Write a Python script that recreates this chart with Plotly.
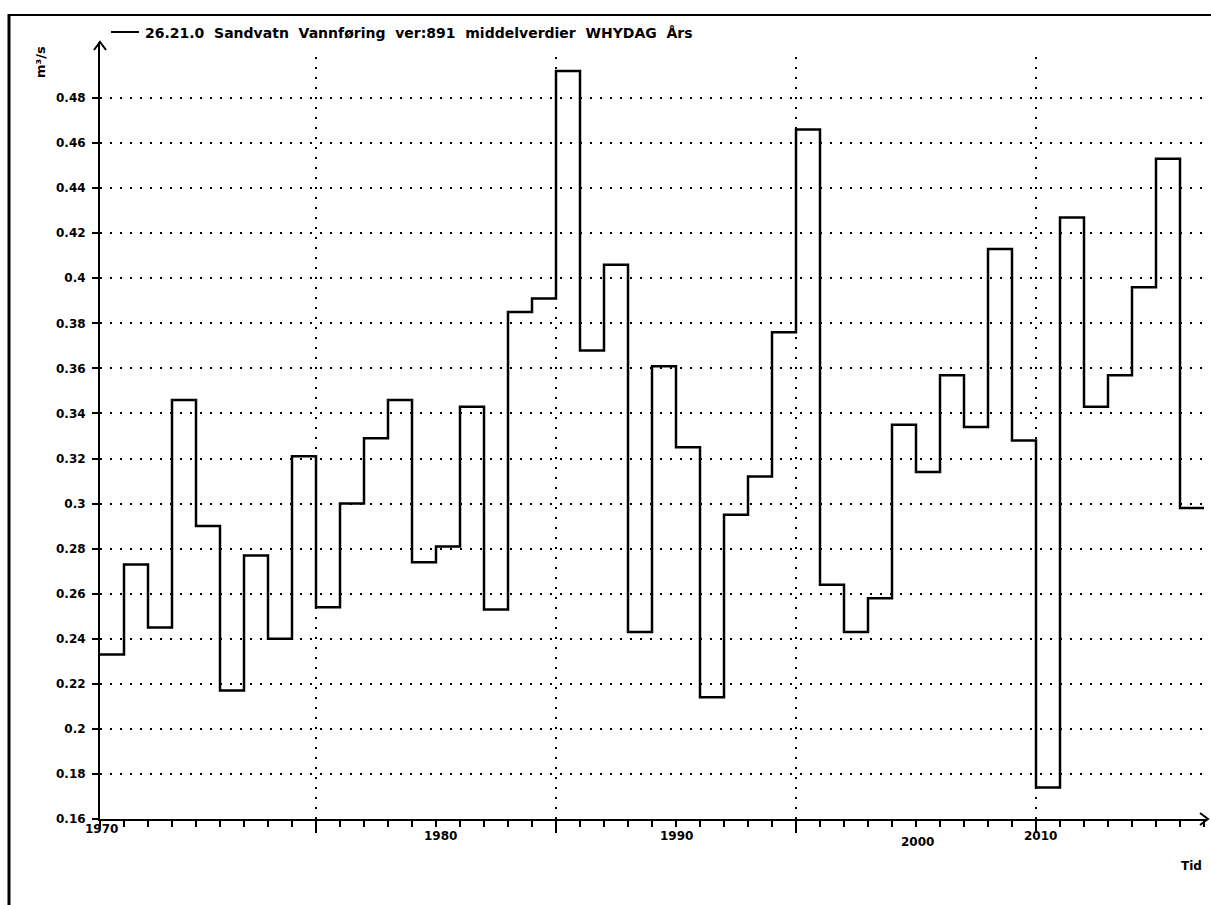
import plotly.graph_objects as go

# ---- data ----
years = list(range(1970, 2016))
flow = [0.233, 0.273, 0.245, 0.346, 0.290, 0.217, 0.277, 0.240, 0.321, 0.254,
        0.300, 0.329, 0.346, 0.274, 0.281, 0.343, 0.253, 0.385, 0.391, 0.492,
        0.368, 0.406, 0.243, 0.361, 0.325, 0.214, 0.295, 0.312, 0.376, 0.466,
        0.264, 0.243, 0.258, 0.335, 0.314, 0.357, 0.334, 0.413, 0.328, 0.174,
        0.427, 0.343, 0.357, 0.396, 0.453, 0.298]
y_ticks = [0.16, 0.18, 0.2, 0.22, 0.24, 0.26, 0.28, 0.3, 0.32, 0.34, 0.36, 0.38,
           0.4, 0.42, 0.44, 0.46, 0.48]
x_tick_labels = ["1970", "1980", "1990", "2000", "2010"]
x_label_at = [1970.05, 1984.17, 1994.04, 2004.08, 2009.17]
major_years = [1979, 1989, 1999, 2009]
series_name = "26.21.0\u00a0 Sandvatn\u00a0 Vannføring\u00a0 ver:891\u00a0 middelverdier\u00a0 WHYDAG\u00a0 Års"

# ---- layout geometry (pixels) ----
W, H = 1211, 905
L, R, T, B = 100, 4, 42, 86
PW, PH = W - L - R, H - T - B
px_per_year = 24.0
x_range = [1970, 1970 + PW / px_per_year]
y_range = [0.16, 0.16 + PH / 45.06 * 0.02]


def xp(px):
    return (px - L) / PW


def yp(py):
    return (H - B - py) / PH


def year_to_paper(yr):
    return (yr - x_range[0]) / (x_range[1] - x_range[0])


FONT = "DejaVu Sans"

step_x = years + [years[-1] + 1]
step_y = flow + [flow[-1]]

fig = go.Figure()
fig.add_trace(go.Scatter(x=step_x, y=step_y, mode="lines", line_shape="hv",
                         line=dict(color="black", width=2.5), name=series_name,
                         showlegend=False, hoverinfo="x+y"))

shapes = []
# vertical dotted gridlines at major years
for yr in major_years:
    shapes.append(dict(type="line", xref="x", yref="y", x0=yr, x1=yr,
                       y0=0.16, y1=0.499, line=dict(color="black", width=2, dash="2px,8px"),
                       layer="below"))
# outer frame (top and left)
shapes.append(dict(type="line", xref="paper", yref="paper", x0=xp(8), x1=xp(1215),
                   y0=yp(15), y1=yp(15), line=dict(color="black", width=2)))
shapes.append(dict(type="line", xref="paper", yref="paper", x0=xp(9), x1=xp(9),
                   y0=yp(14), y1=yp(910), line=dict(color="black", width=3)))
# axis arrowheads
shapes.append(dict(type="path", xref="paper", yref="paper",
                   path=f"M {xp(94)} {yp(50)} L {xp(100)} {yp(42)} L {xp(106)} {yp(50)}",
                   line=dict(color="black", width=2)))
shapes.append(dict(type="path", xref="paper", yref="paper",
                   path=f"M {xp(1200)} {yp(813)} L {xp(1208)} {yp(819)} L {xp(1200)} {yp(825)}",
                   line=dict(color="black", width=2)))
# legend sample line
shapes.append(dict(type="line", xref="paper", yref="paper", x0=xp(111), x1=xp(139),
                   y0=yp(32), y1=yp(32), line=dict(color="black", width=2)))

annotations = []
annotations.append(dict(text=series_name, xref="paper", yref="paper", x=xp(143), y=yp(33),
                        xanchor="left", yanchor="middle", showarrow=False,
                        font=dict(family=FONT, size=14, color="black", weight="bold")))
annotations.append(dict(text="m³/s", xref="paper", yref="paper", x=xp(40), y=yp(62),
                        xanchor="center", yanchor="middle", showarrow=False, textangle=-90,
                        font=dict(family=FONT, size=13, color="black", weight="bold")))
annotations.append(dict(text="Tid", xref="paper", yref="paper", x=xp(1191), y=yp(866),
                        xanchor="center", yanchor="middle", showarrow=False,
                        font=dict(family=FONT, size=12, color="black", weight="bold")))
label_py = [829, 836, 836, 842, 836]
for lab, xv, py in zip(x_tick_labels, x_label_at, label_py):
    annotations.append(dict(text=lab, xref="paper", yref="paper", x=year_to_paper(xv), y=yp(py),
                            xanchor="center", yanchor="middle", showarrow=False,
                            font=dict(family=FONT, size=12, color="black", weight="bold")))

fig.update_layout(
    width=W, height=H, margin=dict(l=L, r=R, t=T, b=B, pad=0),
    paper_bgcolor="white", plot_bgcolor="white", showlegend=False,
    shapes=shapes, annotations=annotations,
    xaxis=dict(range=x_range, showline=True, linecolor="black", linewidth=2,
               showgrid=False, zeroline=False, tickvals=major_years, ticks="outside",
               ticklen=12, tickwidth=2, tickcolor="black", showticklabels=False,
               minor=dict(tick0=1970, dtick=1, ticks="outside", ticklen=6, tickwidth=2,
                          tickcolor="black", showgrid=False)),
    yaxis=dict(range=y_range, showline=True, linecolor="black", linewidth=2,
               tickvals=y_ticks, ticks="outside", ticklen=6, tickwidth=2, tickcolor="black",
               showgrid=True, gridcolor="black", gridwidth=2, griddash="2px,8px",
               zeroline=False, ticklabelstandoff=4,
               tickfont=dict(family=FONT, size=12, color="black", weight="bold")),
)

fig.write_html("out.html")
